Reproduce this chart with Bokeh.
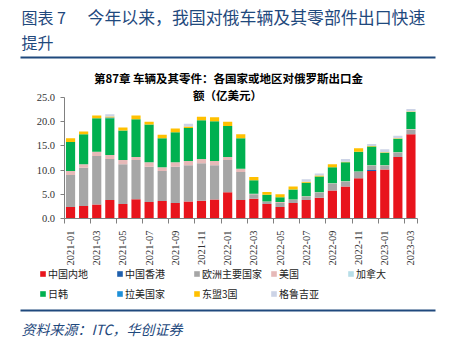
import math
from bokeh.plotting import figure
from bokeh.models import (Label, Legend, LegendItem, FixedTicker, NumeralTickFormatter,
                          Range1d, BoxAnnotation)
from bokeh.embed import file_html
from bokeh.resources import INLINE

months = ["2021-01","2021-02","2021-03","2021-04","2021-05","2021-06","2021-07","2021-08",
          "2021-09","2021-10","2021-11","2021-12","2022-01","2022-02","2022-03","2022-04",
          "2022-05","2022-06","2022-07","2022-08","2022-09","2022-10","2022-11","2022-12",
          "2023-01","2023-02","2023-03"]
mainland = [2.4,2.6,2.9,3.8,3.0,4.0,3.4,3.6,3.2,3.5,3.65,3.9,5.4,3.8,4.1,3.0,2.4,3.2,3.8,4.3,5.8,6.6,8.3,9.8,10.1,12.7,17.4]
hongkong = [0,0,0,0,0,0,0,0,0,0,0,0,0,0,0,0,0,0,0,0,0,0,0,0.2,0,0,0]
europe = [6.6,7.9,10.0,8.5,8.2,8.1,7.3,6.2,7.5,7.5,7.75,7.1,6.7,5.8,0.9,0.4,0.8,0.6,0.7,1.0,1.4,1.0,1.3,0.9,0.8,0.9,1.0]
usa = [0.8,0.7,0.9,0.8,0.9,0.6,0.9,0.8,0.9,0.9,0.9,0.9,0.6,0.7,0.1,0.1,0.2,0.1,0.1,0.1,0.1,0.1,0.1,0.1,0.1,0.1,0.1]
canada = [0]*27
japan_korea = [6.0,6.2,6.9,7.6,6.1,7.8,7.8,6.0,6.2,6.8,8.0,8.2,6.4,6.3,2.8,1.4,1.0,2.1,2.8,3.3,3.3,3.9,4.1,3.9,2.6,2.8,3.5]
latam = [0,0,0,0.15,0,0,0,0,0,0,0,0,0,0,0,0,0,0,0,0,0,0,0,0,0,0,0]
asean3 = [0.8,0.6,0.6,0.2,0.6,0.8,0.6,0.7,0.8,0.3,0.7,0.8,0.9,0.8,0.7,0.6,0.6,0.6,0.2,0.2,0.6,0.1,0.7,0.1,0.1,0.1,0.1]
georgia = [0,0,0,0.5,0,0,0,0,0,0.6,0,0,0,0,0,0,0,0,0.5,0.4,0,0.6,0,0.4,0.6,0.5,0.5]

series_names = ["中国内地","中国香港","欧洲主要国家","美国","加拿大","日韩","拉美国家","东盟3国","格鲁吉亚"]
series_data = [mainland, hongkong, europe, usa, canada, japan_korea, latam, asean3, georgia]
colors = ["#E8141C","#1F5FAD","#A6A6A6","#E6B9B8","#B7DEE8","#00B050","#1E90D8","#FFC000","#CCD3E6"]

y_ticks = [0, 5, 10, 15, 20, 25]
y_max = 25

# ---- page geometry (pixels, from top-left) ----
W, H = 451, 342
PL, PR = 63.5, 417.0      # plot area left/right
PB, PT = 218.0, 97.0      # plot area bottom (value 0) / top (value 25)

n = len(months)
xs_per_px = n / (PR - PL)
ys_per_px = y_max / (PB - PT)
x_range = Range1d(-0.5 - PL * xs_per_px, n - 0.5 + (W - PR) * xs_per_px)
y_range = Range1d(-(H - PB) * ys_per_px, y_max + PT * ys_per_px)

p = figure(width=W, height=H, output_backend="svg", toolbar_location=None,
           x_range=x_range, y_range=y_range,
           min_border=0, min_border_left=0, min_border_right=0,
           min_border_top=0, min_border_bottom=0)
p.outline_line_color = None
p.xgrid.grid_line_color = None
p.ygrid.grid_line_color = None
p.background_fill_color = "white"
p.border_fill_color = "white"

src = {"x": list(range(n))}
keys = []
for i, d in enumerate(series_data):
    k = f"s{i}"
    src[k] = d
    keys.append(k)
rs = p.vbar_stack(keys, x="x", width=0.7, color=colors, source=src, line_width=0)

# axes drawn at fixed positions inside the canvas
p.yaxis.fixed_location = -0.5
p.yaxis.bounds = (0, y_max)
p.yaxis.ticker = FixedTicker(ticks=y_ticks)
p.yaxis.formatter = NumeralTickFormatter(format="0.0")
p.yaxis.major_label_text_font = "Liberation Serif"
p.yaxis.major_label_text_font_size = "10.5px"
p.yaxis.major_label_text_color = "#333333"
p.yaxis.axis_line_color = "#808080"
p.yaxis.major_tick_line_color = "#808080"
p.yaxis.major_tick_in = 0
p.yaxis.major_tick_out = 4
p.yaxis.major_label_standoff = 5
p.yaxis.minor_tick_line_color = None

label_idx = list(range(0, n, 2))
p.xaxis.fixed_location = 0
p.xaxis.bounds = (-0.5, n - 0.5)
p.xaxis.ticker = FixedTicker(ticks=label_idx,
                             minor_ticks=[i - 0.5 for i in label_idx] + [n - 0.5])
p.xaxis.major_label_overrides = {i: months[i] for i in label_idx}
p.xaxis.major_label_orientation = math.pi / 2
p.xaxis.major_label_text_font = "Liberation Serif"
p.xaxis.major_label_text_font_size = "10.5px"
p.xaxis.major_label_text_color = "#333333"
p.xaxis.axis_line_color = "#808080"
p.xaxis.major_tick_in = 0
p.xaxis.major_tick_out = 0
p.xaxis.minor_tick_line_color = "#808080"
p.xaxis.minor_tick_in = 0
p.xaxis.minor_tick_out = 5
p.xaxis.major_label_standoff = 7

blue = "#1F497D"
CJK = "Noto Sans CJK SC"

def add_label(text, cx, cy, size, color="black", align="left", style="normal"):
    p.add_layout(Label(x=cx, y=H - cy, x_units="screen", y_units="screen", text=text,
                       text_font=CJK, text_font_size=size, text_color=color,
                       text_align=align, text_baseline="middle", text_font_style=style))

def add_rule(x0, x1, cy):
    p.add_layout(BoxAnnotation(left=x0, right=x1, top=H - cy + 1, bottom=H - cy - 1,
                               left_units="screen", right_units="screen",
                               top_units="screen", bottom_units="screen",
                               fill_color=blue, fill_alpha=1.0, line_color=None))

add_label("图表 7", 21, 16, "16px", blue)
add_label("今年以来，我国对俄车辆及其零部件出口快速", 87, 16, "16.9px", blue)
add_label("提升", 21, 41, "16px", blue)
add_rule(20, 435, 57)
add_label("第87章 车辆及其零件：各国家或地区对俄罗斯出口金", 228, 77, "11.5px", "black", "center", "bold")
add_label("额（亿美元）", 227, 94, "11.5px", "black", "center", "bold")
add_rule(20, 435, 310)
add_label("资料来源：ITC，华创证券", 21, 328, "14px", blue, "left", "italic")

items = [LegendItem(label=nm, renderers=[r]) for nm, r in zip(series_names, rs)]
legend = Legend(items=items, orientation="horizontal", ncols=5,
                location=(39, H - 303), padding=0, margin=0, spacing=0,
                glyph_width=7, glyph_height=7, label_standoff=2,
                label_width=68, label_height=20,
                label_text_font=CJK, label_text_font_size="10px",
                label_text_color="#222222", background_fill_alpha=0, border_line_color=None)
p.add_layout(legend, "center")

open("out.html", "w").write(file_html(p, INLINE))
